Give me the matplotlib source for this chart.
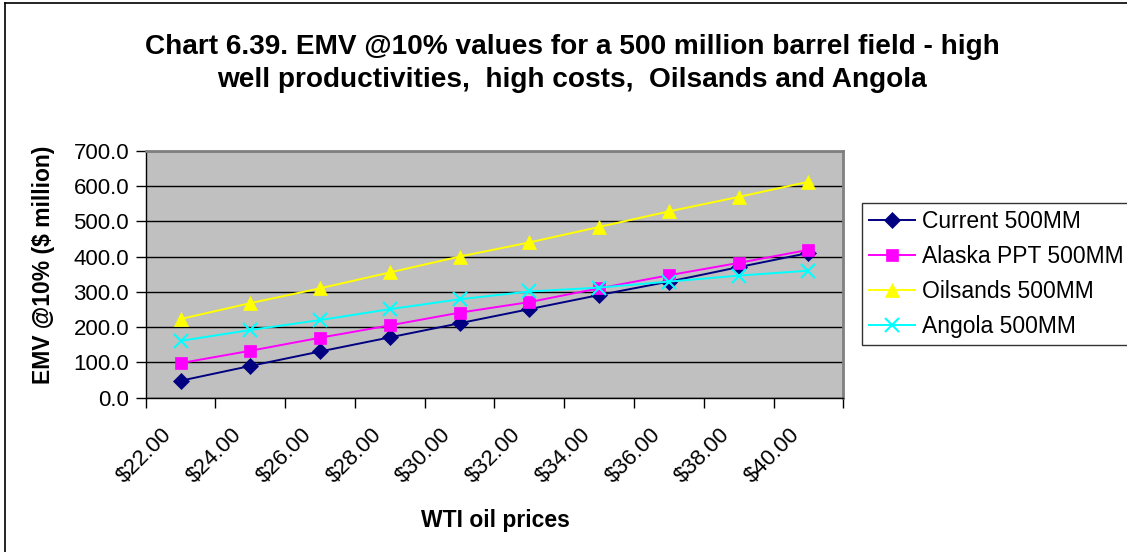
import matplotlib
matplotlib.use("Agg")
import matplotlib.pyplot as plt
import matplotlib.transforms as mtransforms
from matplotlib.lines import Line2D
import numpy as np

plt.rcParams['font.family'] = ['Liberation Sans', 'DejaVu Sans']

prices = ["$22.00", "$24.00", "$26.00", "$28.00", "$30.00",
          "$32.00", "$34.00", "$36.00", "$38.00", "$40.00"]
current = [48, 90, 131, 171, 211, 251, 291, 329, 370, 410]
alaska = [98, 133, 170, 205, 241, 271, 310, 347, 382, 419]
oilsands = [223, 268, 310, 355, 400, 440, 484, 528, 569, 612]
angola = [161, 192, 220, 251, 279, 301, 312, 329, 346, 360]

W, H = 1127, 552
fig = plt.figure(figsize=(W / 100, H / 100), dpi=100)

# chart area border (runs off the right/bottom edges)
fig.add_artist(Line2D([5 / W, 5 / W], [0, 1 - 3 / H], color='black', lw=1.2))
fig.add_artist(Line2D([5 / W, 1], [1 - 3 / H, 1 - 3 / H], color='black', lw=1.2))

ax = fig.add_axes([145.7 / W, 1 - 397.7 / H, (843.3 - 145.7) / W, (397.7 - 150.7) / H])
ax.set_facecolor('#C0C0C0')

x = np.arange(len(prices))
series = [
    ("Current 500MM", current, '#000080', 'D', 8),
    ("Alaska PPT 500MM", alaska, '#FF00FF', 's', 8),
    ("Oilsands 500MM", oilsands, '#FFFF00', '^', 10),
    ("Angola 500MM", angola, '#00FFFF', 'x', 10),
]
for name, vals, col, mk, ms in series:
    ax.plot(x, vals, color=col, lw=1.4, marker=mk, markersize=ms,
            markeredgewidth=1.5 if mk == 'x' else 0.5, markeredgecolor=col,
            label=name, zorder=3)

ax.set_xlim(-0.5, len(prices) - 0.5)
ax.set_ylim(0, 700)
ax.set_yticks(np.arange(0, 701, 100))
ax.set_yticklabels([f"{v:.1f}" for v in range(0, 701, 100)])
ax.yaxis.grid(True, color='black', lw=1.0)
ax.set_axisbelow(True)

# ticks at category boundaries, labels at category centres
ax.set_xticks(np.arange(-0.5, len(prices), 1.0))
ax.set_xticklabels([])
ax.set_xticks(x, minor=True)
ax.set_xticklabels(prices, minor=True, rotation=45, ha='right', va='top',
                   rotation_mode='anchor', fontsize=16)
ax.tick_params(axis='x', which='minor', length=0, pad=19)
ax.tick_params(axis='x', which='major', length=7, width=1, direction='out')
ax.tick_params(axis='y', length=7, width=1, direction='out', labelsize=16, pad=5)
shift = mtransforms.ScaledTranslation(-0.19, 0, fig.dpi_scale_trans)
for lab in ax.xaxis.get_minorticklabels():
    lab.set_transform(lab.get_transform() + shift)

for s in ['top', 'right']:
    ax.spines[s].set_color('#808080')
    ax.spines[s].set_linewidth(2)
for s in ['left', 'bottom']:
    ax.spines[s].set_color('black')
    ax.spines[s].set_linewidth(1)

fig.text(572 / W, 1 - 47 / H,
         "Chart 6.39. EMV @10% values for a 500 million barrel field - high",
         ha='center', va='center', fontsize=20.2, fontweight='bold')
fig.text(572 / W, 1 - 80 / H,
         "well productivities,  high costs,  Oilsands and Angola",
         ha='center', va='center', fontsize=20.2, fontweight='bold')
fig.text(495 / W, 1 - 527 / H, "WTI oil prices",
         ha='center', va='baseline', fontsize=16.5, fontweight='bold')
fig.text(44 / W, 1 - 265 / H, "EMV @10% ($ million)", rotation=90,
         ha='center', va='center', fontsize=16.5, fontweight='bold')

leg = fig.legend(loc='upper left', bbox_to_anchor=(862 / W, 1 - 203 / H),
                 fontsize=16.5, frameon=True, fancybox=False, handlelength=2.0,
                 labelspacing=0.52, borderpad=0.3, handletextpad=0.3,
                 borderaxespad=0)
leg.get_frame().set_edgecolor('black')
leg.get_frame().set_linewidth(1)

fig.savefig("out.png", dpi=100)
